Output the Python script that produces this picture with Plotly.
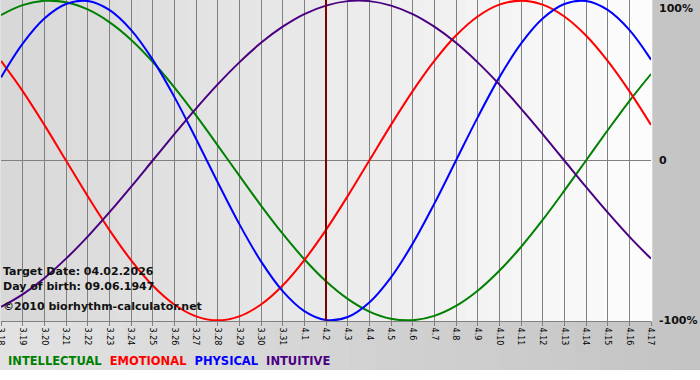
import plotly.graph_objects as go

# ---- data ----
dates = ["3.18", "3.19", "3.20", "3.21", "3.22", "3.23", "3.24", "3.25", "3.26", "3.27",
         "3.28", "3.29", "3.30", "3.31", "4.1", "4.2", "4.3", "4.4", "4.5", "4.6",
         "4.7", "4.8", "4.9", "4.10", "4.11", "4.12", "4.13", "4.14", "4.15", "4.16", "4.17"]

intellectual = [0.910, 0.972, 0.999, 0.990, 0.945, 0.866, 0.756, 0.618, 0.458, 0.282,
                0.095, -0.095, -0.282, -0.458, -0.618, -0.756, -0.866, -0.945, -0.990, -0.999,
                -0.972, -0.910, -0.815, -0.690, -0.541, -0.372, -0.189, 0.000, 0.189, 0.372, 0.541]

emotional = [0.623, 0.434, 0.223, 0.000, -0.223, -0.434, -0.623, -0.782, -0.901, -0.975,
             -1.000, -0.975, -0.901, -0.782, -0.623, -0.434, -0.223, 0.000, 0.223, 0.434,
             0.623, 0.782, 0.901, 0.975, 1.000, 0.975, 0.901, 0.782, 0.623, 0.434, 0.223]

physical = [0.520, 0.731, 0.888, 0.979, 0.998, 0.942, 0.817, 0.631, 0.398, 0.136,
            -0.136, -0.398, -0.631, -0.817, -0.942, -0.998, -0.979, -0.888, -0.731, -0.520,
            -0.270, 0.000, 0.270, 0.520, 0.731, 0.888, 0.979, 0.998, 0.942, 0.817, 0.631]

intuitive = [-0.916, -0.837, -0.736, -0.614, -0.476, -0.325, -0.165, 0.000, 0.165, 0.325,
             0.476, 0.614, 0.736, 0.837, 0.916, 0.969, 0.997, 0.997, 0.969, 0.916,
             0.837, 0.736, 0.614, 0.476, 0.325, 0.165, 0.000, -0.165, -0.325, -0.476, -0.614]

target_day = "4.2"
y_ticks = [-1, 0, 1]
y_labels = ["-100%", "0", "100%"]
series_names = ["INTELLECTUAL", "EMOTIONAL", "PHYSICAL", "INTUITIVE"]
series_colors = ["#008000", "#ff0000", "#0000ff", "#4b0082"]
info_lines = ["Target Date: 04.02.2026", "Day of birth: 09.06.1947", "\u00a92010 biorhythm-calculator.net"]

# ---- layout geometry (pixels) ----
W, H = 700, 380
L, T, PW, PH = 1, 0, 650, 321
FONT = "DejaVu Sans"


def px_x(p):
    return (p - L) / PW


def px_y(p):
    return 1 - (p - T) / PH


def lerp_hex(c1, c2, f):
    a = [int(c1[i:i + 2], 16) for i in (1, 3, 5)]
    b = [int(c2[i:i + 2], 16) for i in (1, 3, 5)]
    return "#" + "".join("%02x" % round(a[k] + (b[k] - a[k]) * f) for k in range(3))


fig = go.Figure()
for name, vals, col in zip(series_names, [intellectual, emotional, physical, intuitive], series_colors):
    fig.add_trace(go.Scatter(x=dates, y=vals, mode="lines", name=name,
                             line=dict(color=col, width=2, shape="spline", smoothing=1.0),
                             hoverinfo="skip"))

shapes = []
# outer background gradient (stops at y=370)
N = 28
for k in range(N):
    x0 = px_x(W * k / N)
    x1 = px_x(W * (k + 1) / N + 0.5)
    shapes.append(dict(type="rect", xref="paper", yref="paper", x0=x0, x1=x1,
                       y0=px_y(370), y1=px_y(0), layer="below", line=dict(width=0),
                       fillcolor=lerp_hex("#e2e2e2", "#c4c4c4", k / (N - 1))))
# plot area gradient
for k in range(N):
    shapes.append(dict(type="rect", xref="paper", yref="paper", x0=k / N, x1=(k + 1) / N + 0.002,
                       y0=0, y1=1, layer="below", line=dict(width=0),
                       fillcolor=lerp_hex("#d8d8d8", "#fcfcfc", k / (N - 1))))
# target date line (category index on the x axis)
t_idx = dates.index(target_day)
shapes.append(dict(type="line", xref="x", yref="paper", x0=t_idx, x1=t_idx,
                   y0=0, y1=1, line=dict(color="#800000", width=2), layer="above"))

annotations = []
for lab, v in zip(y_labels, y_ticks):
    annotations.append(dict(xref="paper", yref="y", x=1, y=v, xanchor="left",
                            yanchor="top" if v == 1 else "middle",
                            xshift=6, yshift=1 if v == 1 else 0, showarrow=False,
                            text="<b>%s</b>" % lab,
                            font=dict(family=FONT, size=11, color="#111111")))
for txt, yp in zip(info_lines, [271, 286, 306]):
    annotations.append(dict(xref="paper", yref="paper", x=px_x(1), y=px_y(yp), xanchor="left",
                            yanchor="middle", showarrow=False, text="<b>%s</b>" % txt,
                            font=dict(family=FONT, size=11, color="#111111")))
legend_txt = "&nbsp; ".join("<span style='color:%s'>%s</span>" % (c, n) for n, c in zip(series_names, series_colors))
annotations.append(dict(xref="paper", yref="paper", x=px_x(6), y=px_y(361), xanchor="left",
                        yanchor="middle", showarrow=False, text="<b>%s</b>" % legend_txt,
                        font=dict(family=FONT, size=11.5)))

fig.update_layout(
    width=W, height=H,
    margin=dict(l=L, r=W - L - PW, t=T, b=H - T - PH, pad=0, autoexpand=False),
    paper_bgcolor="#ffffff", plot_bgcolor="rgba(0,0,0,0)",
    showlegend=False,
    shapes=shapes, annotations=annotations,
    xaxis=dict(type="category", range=[0, len(dates) - 1], tickmode="array",
               tickvals=dates, ticktext=dates, tickangle=90, automargin=False,
               showgrid=True, gridcolor="#808080", gridwidth=1,
               showline=True, linecolor="#808080", linewidth=1,
               ticks="outside", ticklen=4, tickcolor="#808080",
               tickfont=dict(family=FONT, size=8, color="#000000"), fixedrange=True),
    yaxis=dict(range=[-1.004, 1.004], tickvals=y_ticks, showticklabels=False, automargin=False,
               showgrid=True, gridcolor="#808080", gridwidth=1, zeroline=False,
               fixedrange=True),
)

fig.write_html("out.html", config={"displayModeBar": False},
               post_script="document.body.style.margin='0';document.body.style.overflow='hidden';")
